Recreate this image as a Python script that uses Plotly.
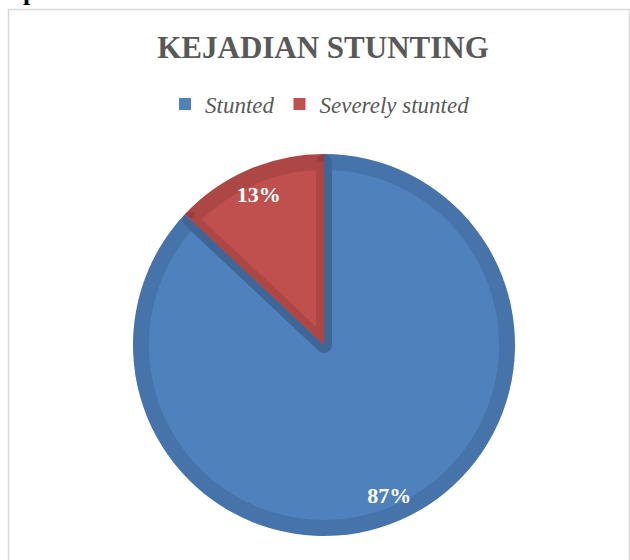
import plotly.graph_objects as go

categories = ["Stunted", "Severely stunted"]
values = [87, 13]
slice_colors = ["#4F81BD", "#C0504D"]
title_text = "KEJADIAN STUNTING"
header_text = "n pertama"

serif = "Liberation Serif, Times New Roman, serif"
W, H = 630, 560
cx, cy, R, band = 324, 345, 191, 8


def dom(r):
    return dict(x=[(cx - 205) / W, (cx + 205) / W],
                y=[(H - cy - r) / H, (H - cy + r) / H])


fig = go.Figure()

# base disc (full radius, plain fill)
fig.add_trace(go.Pie(
    labels=categories, values=values, sort=False, direction="clockwise", rotation=0,
    marker=dict(colors=slice_colors, line=dict(width=0)),
    textinfo="none", hoverinfo="label+percent", domain=dom(R), showlegend=True,
))

# inner pie whose translucent stroke gives the darker rim on every slice edge
fig.add_trace(go.Pie(
    labels=categories, values=values, sort=False, direction="clockwise", rotation=0,
    marker=dict(colors=slice_colors, line=dict(color="rgba(0,0,0,0.1)", width=2 * band)),
    textinfo="none", hoverinfo="label+percent", domain=dom(R - band), showlegend=False,
))

# transparent ring used only to place the percentage labels near the rim
fig.add_trace(go.Pie(
    labels=categories, values=values, sort=False, direction="clockwise", rotation=0,
    hole=0.72,
    marker=dict(colors=["rgba(0,0,0,0)", "rgba(0,0,0,0)"], line=dict(width=0)),
    textinfo="percent", textposition="inside", insidetextorientation="horizontal",
    texttemplate="%{percent:.0%}",
    textfont=dict(family=serif, size=22, color="white", weight="bold"),
    hoverinfo="skip", domain=dom(R), showlegend=False,
))

fig.update_layout(
    width=W, height=H,
    margin=dict(l=0, r=0, t=0, b=0),
    paper_bgcolor="white", plot_bgcolor="white",
    title=dict(text="<b>" + title_text + "</b>", x=323 / W, xanchor="center",
               y=1 - 47 / H, yanchor="middle",
               font=dict(family=serif, size=31, color="#595959")),
    legend=dict(orientation="h", x=165 / W, xanchor="left",
                y=1 - 104 / H, yanchor="middle",
                font=dict(family=serif, size=23, color="#595959", style="italic"),
                traceorder="normal"),
    shapes=[dict(type="rect", xref="paper", yref="paper",
                 x0=8.5 / W, x1=629.5 / W, y0=-0.05, y1=1 - 9.5 / H,
                 line=dict(color="#D9D9D9", width=1.5), fillcolor="rgba(0,0,0,0)",
                 layer="below")],
    annotations=[dict(text="<b>" + header_text + "</b>", xref="paper", yref="paper",
                      x=0, xanchor="left", y=1 - 8 / H, yanchor="bottom",
                      showarrow=False,
                      font=dict(family=serif, size=26, color="black"))],
)

fig.write_html("out.html")
